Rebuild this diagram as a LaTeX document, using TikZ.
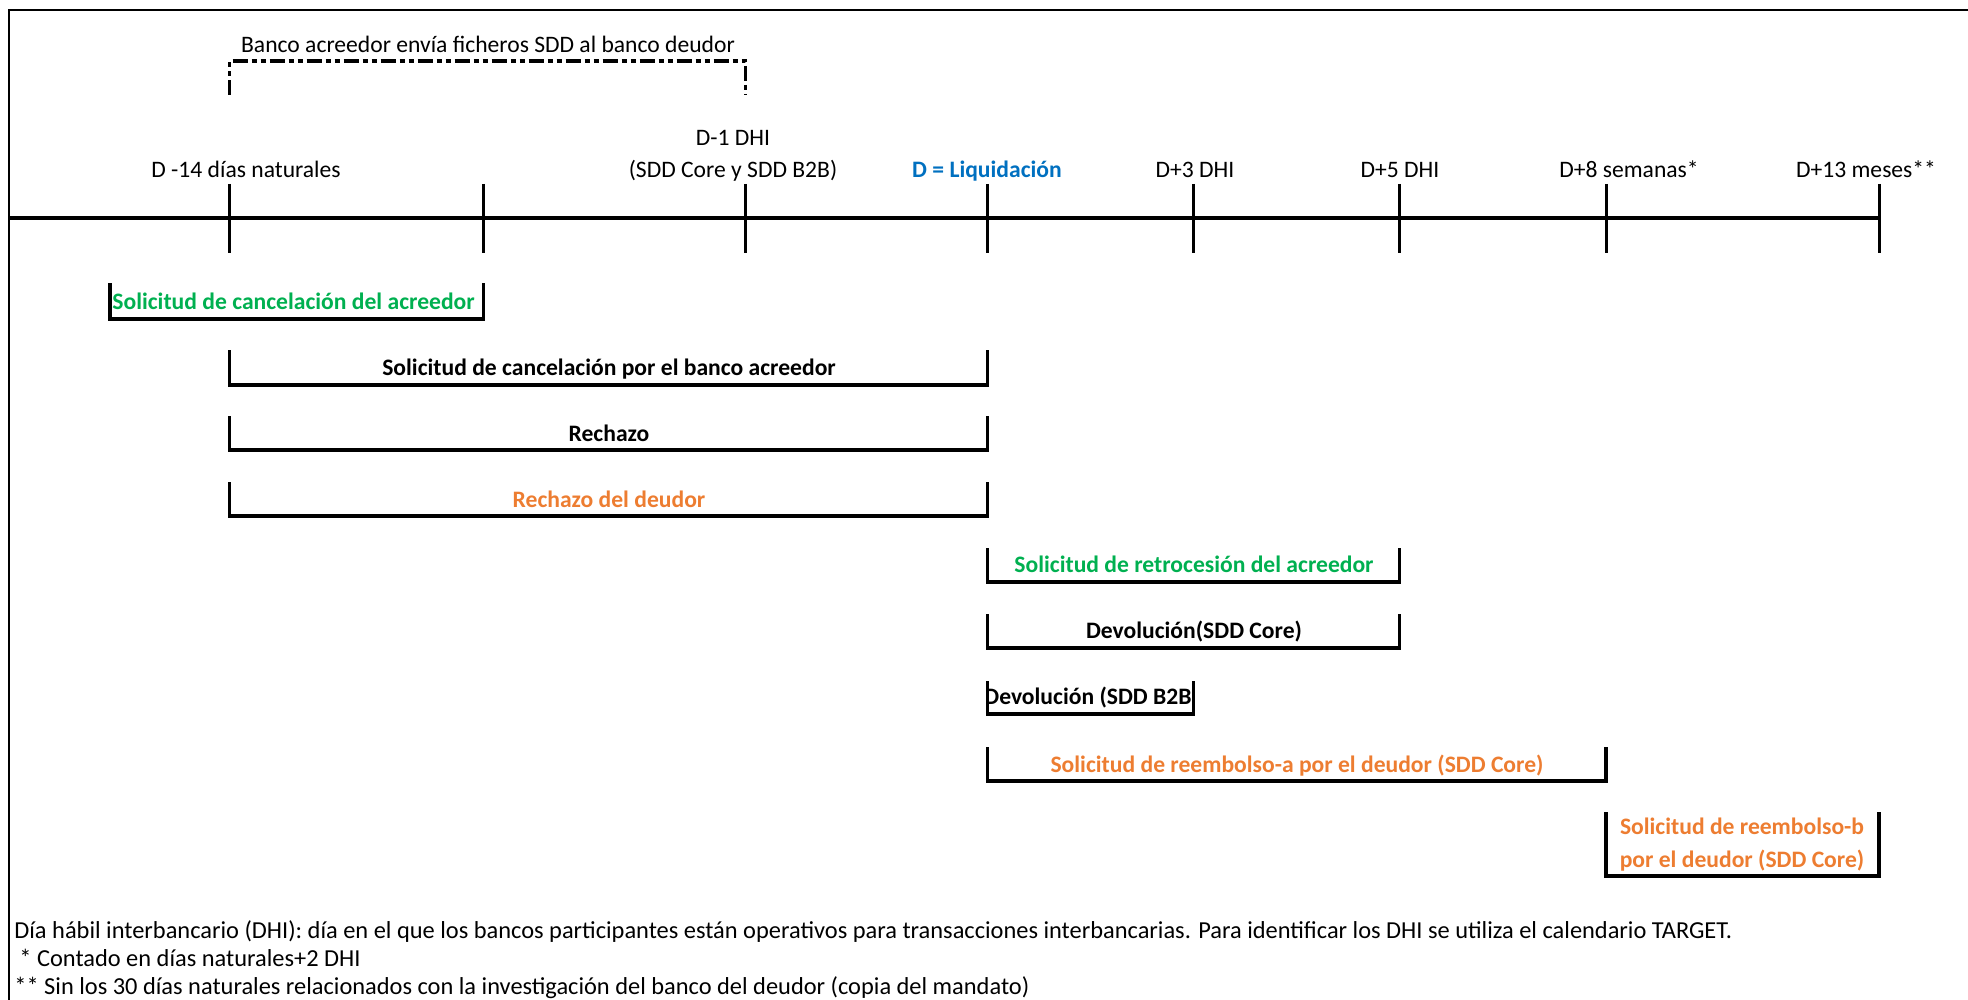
\documentclass[tikz,border=0pt]{standalone}
\usepackage{fontspec}
\setmainfont{Carlito}
\definecolor{xlgreen}{RGB}{0,176,80}
\definecolor{xlorange}{RGB}{237,125,49}
\definecolor{xlblue}{RGB}{0,112,192}
\begin{document}
\begin{tikzpicture}[x=0.5pt,y=-0.5pt,
  txt/.style={font=\fontsize{11.8}{14}\selectfont, inner sep=0pt, text height=8.5pt, text depth=2.5pt},
  btxt/.style={txt, font=\fontsize{11.8}{14}\selectfont\bfseries},
  ftxt/.style={txt, font=\fontsize{12.2}{14}\selectfont, anchor=west},
  frameline/.style={line width=1pt},
  axisline/.style={line width=2pt},
  tickline/.style={line width=1.5pt},
  barline/.style={line width=1.6pt, line join=miter},
  ddline/.style={line width=1.8pt, dash pattern=on 7.5pt off 2pt on 2.5pt off 2pt on 2.5pt off 2pt}]
\useasboundingbox (0,0) rectangle (1968,1000);
% frame
\draw[frameline] (9,1000) -- (9,10) -- (1968,10);
% timeline
\coordinate (a0) at (9,218.5);
\coordinate (aE) at (1879,218.5);
\draw[axisline] (a0) -- (aE);
\foreach \x in {229.5,483.5,745.5,987.5,1193.5,1399.5,1606,1879}{
  \draw[tickline] (\x,184) -- (\x,253);
}
% tick labels
\node[txt] (l1) at (246,172) {D -14 días naturales};
\node[txt] (l2a) at (733,140) {D-1 DHI};
\node[txt] (l2b) at (733,172) {(SDD Core y SDD B2B)};
\node[btxt, text=xlblue] (l3) at (987,172) {D = Liquidación};
\node[txt] (l4) at (1195,172) {D+3 DHI};
\node[txt] (l5) at (1400,172) {D+5 DHI};
\node[txt] (l6) at (1629,172) {D+8 semanas*};
\node[txt] (l7) at (1866,172) {D+13 meses**};
% top bracket
\node[txt] (top) at (488,47) {Banco acreedor envía ficheros SDD al banco deudor};
\draw[ddline] (229.5,95) -- (229.5,61) -- (745.5,61) -- (745.5,95);
% bars
\node[btxt, text=xlgreen, anchor=west] (b1) at (112,303) {Solicitud de cancelación del acreedor};
\draw[barline] (110,283) -- (110,319) -- (483.5,319) -- (483.5,283);

\node[btxt] (b2) at (609,369) {Solicitud de cancelación por el banco acreedor};
\draw[barline] (229.5,350) -- (229.5,385) -- (987.5,385) -- (987.5,350);

\node[btxt] (b3) at (609,435) {Rechazo};
\draw[barline] (229.5,416) -- (229.5,450) -- (987.5,450) -- (987.5,416);

\node[btxt, text=xlorange] (b4) at (609,501) {Rechazo del deudor};
\draw[barline] (229.5,482) -- (229.5,516) -- (987.5,516) -- (987.5,482);

\node[btxt, text=xlgreen] (b5) at (1194,566) {Solicitud de retrocesión del acreedor};
\draw[barline] (987.5,548) -- (987.5,582) -- (1399.5,582) -- (1399.5,548);

\node[btxt] (b6) at (1194,632) {Devolución(SDD Core)};
\draw[barline] (987.5,614) -- (987.5,648) -- (1399.5,648) -- (1399.5,614);

\begin{scope}
\clip (987.5,670) rectangle (1193.5,720);
\node[btxt, anchor=west] (b7) at (984,698) {Devolución (SDD B2B)};
\end{scope}
\draw[barline] (987.5,681) -- (987.5,714) -- (1193.5,714) -- (1193.5,681);

\node[btxt, text=xlorange] (b8) at (1297,766) {Solicitud de reembolso-a por el deudor (SDD Core)};
\draw[barline] (987.5,747) -- (987.5,781) -- (1606,781) -- (1606,747);

\node[btxt, text=xlorange] (b9a) at (1742,828) {Solicitud de reembolso-b};
\node[btxt, text=xlorange] (b9b) at (1742,861) {por el deudor (SDD Core)};
\draw[barline] (1606,812) -- (1606,876) -- (1879,876) -- (1879,812);
% footnotes
\node[ftxt] (f1) at (14,932) {Día hábil interbancario (DHI): día en el que los bancos participantes están operativos para transacciones interbancarias. Para identificar los DHI se utiliza el calendario TARGET.};
\node[ftxt] (f2) at (19,960) {* Contado en días naturales+2 DHI};
\node[ftxt] (f3) at (14,988) {** Sin los 30 días naturales relacionados con la investigación del banco del deudor (copia del mandato)};
\end{tikzpicture}
\end{document}
